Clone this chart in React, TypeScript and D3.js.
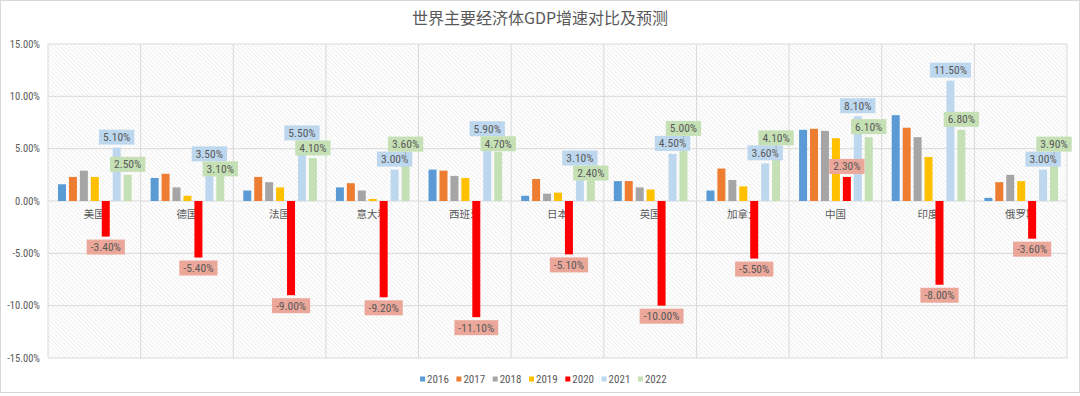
// 世界主要经济体GDP增速对比及预测 — 分组柱状图 + 数据标签
import React, { useEffect, useRef } from 'react';
import * as d3 from 'd3';

const countries = ['美国', '德国', '法国', '意大利', '西班牙', '日本', '英国', '加拿大', '中国', '印度', '俄罗斯'];
const years = ['2016', '2017', '2018', '2019', '2020', '2021', '2022'];

const g2016 = [1.6, 2.2, 1.0, 1.3, 3.0, 0.5, 1.9, 1.0, 6.8, 8.2, 0.3];
const g2017 = [2.3, 2.6, 2.3, 1.7, 2.9, 2.1, 1.9, 3.1, 6.9, 7.0, 1.8];
const g2018 = [2.9, 1.3, 1.8, 1.0, 2.4, 0.7, 1.3, 2.0, 6.7, 6.1, 2.5];
const g2019 = [2.3, 0.5, 1.3, 0.2, 2.2, 0.8, 1.1, 1.4, 6.0, 4.2, 1.9];
const g2020 = [-3.4, -5.4, -9.0, -9.2, -11.1, -5.1, -10.0, -5.5, 2.3, -8.0, -3.6];
const g2021 = [5.1, 3.5, 5.5, 3.0, 5.9, 3.1, 4.5, 3.6, 8.1, 11.5, 3.0];
const g2022 = [2.5, 3.1, 4.1, 3.6, 4.7, 2.4, 5.0, 4.1, 6.1, 6.8, 3.9];

const yTicks = [-15, -10, -5, 0, 5, 10, 15];

const series = [g2016, g2017, g2018, g2019, g2020, g2021, g2022];
const colors = ['#5b9bd5', '#ed7d31', '#a5a5a5', '#ffc000', '#ff0000', '#bdd7ee', '#c5e0b4'];
const labelFill: Record<string, string> = { '2020': '#eba79a', '2021': '#bdd7ee', '2022': '#c5e0b4' };

const NUM_FONT = "'Liberation Sans Narrow', 'Roboto Condensed', 'Liberation Sans', sans-serif";
const CJK_FONT = "'Noto Sans CJK SC', sans-serif";
const TEXT = '#595959';

const App: React.FC = () => {
  const svgRef = useRef<SVGSVGElement>(null);

  useEffect(() => {
    if (!svgRef.current) return;
    const svg = d3.select(svgRef.current);
    svg.selectAll('*').remove();

    const width = 1080;
    const height = 396;
    const margin = { top: 44, right: 13, bottom: 38, left: 48 };
    const innerW = width - margin.left - margin.right;
    const innerH = height - margin.top - margin.bottom;

    // рамка всей диаграммы
    svg.append('rect')
      .attr('x', 0.5).attr('y', 0.5)
      .attr('width', width - 1).attr('height', height - 4)
      .attr('fill', '#fff').attr('stroke', '#d9d9d9');

    // штриховка фона
    const defs = svg.append('defs');
    const pat = defs.append('pattern')
      .attr('id', 'hatch')
      .attr('width', 3).attr('height', 3)
      .attr('patternUnits', 'userSpaceOnUse')
      .attr('patternTransform', 'rotate(-45)');
    pat.append('line')
      .attr('x1', 0).attr('y1', 0).attr('x2', 0).attr('y2', 3)
      .attr('stroke', '#e4e4e4').attr('stroke-width', 1.2);

    // заголовок
    svg.append('text')
      .attr('x', width / 2).attr('y', 24)
      .attr('text-anchor', 'middle')
      .attr('font-family', CJK_FONT).attr('font-size', 16)
      .attr('fill', TEXT)
      .text('世界主要经济体GDP增速对比及预测');

    const g = svg.append('g').attr('transform', `translate(${margin.left},${margin.top})`);

    const x0 = d3.scaleBand<string>().domain(countries).range([0, innerW]);
    const bw = x0.bandwidth();
    const x1 = d3.scaleBand<string>().domain(years).range([10, bw - 9]).paddingInner(0.27);
    const y = d3.scaleLinear().domain([-15, 15]).range([innerH, 0]);

    g.append('rect')
      .attr('width', innerW).attr('height', innerH)
      .attr('fill', 'url(#hatch)');

    // сетка
    g.append('g').selectAll('line')
      .data(yTicks).enter().append('line')
      .attr('x1', 0).attr('x2', innerW)
      .attr('y1', (d) => y(d)).attr('y2', (d) => y(d))
      .attr('stroke', '#d9d9d9');
    const bounds = countries.map((c) => x0(c)!).concat([innerW]);
    g.append('g').selectAll('line')
      .data(bounds).enter().append('line')
      .attr('x1', (d) => d).attr('x2', (d) => d)
      .attr('y1', 0).attr('y2', innerH)
      .attr('stroke', '#d9d9d9');

    // ось Y
    g.append('g').selectAll('text')
      .data(yTicks).enter().append('text')
      .attr('x', -8).attr('y', (d) => y(d))
      .attr('dy', '0.35em')
      .attr('text-anchor', 'end')
      .attr('font-family', NUM_FONT).attr('font-size', 10.5)
      .attr('fill', TEXT)
      .text((d) => `${d.toFixed(2)}%`);

    // подписи стран (под столбиками)
    g.append('g').selectAll('text')
      .data(countries).enter().append('text')
      .attr('x', (d) => x0(d)! + bw / 2)
      .attr('y', y(0) + 13)
      .attr('dy', '0.35em')
      .attr('text-anchor', 'middle')
      .attr('font-family', CJK_FONT).attr('font-size', 10.5)
      .attr('fill', TEXT)
      .text((d) => d);

    // столбики
    years.forEach((yr, si) => {
      g.append('g').selectAll('rect')
        .data(series[si]).enter().append('rect')
        .attr('x', (_, i) => x0(countries[i])! + x1(yr)!)
        .attr('width', x1.bandwidth())
        .attr('y', (d) => y(Math.max(0, d)))
        .attr('height', (d) => Math.abs(y(d) - y(0)))
        .attr('fill', colors[si]);
    });

    // подписи данных
    const boxH = 15;
    const gap = 3;
    const lg = g.append('g');
    const drawLabel = (cx: number, top: number, v: number, yr: string) => {
      const grp = lg.append('g');
      const rect = grp.append('rect').attr('fill', labelFill[yr]);
      const txt = grp.append('text')
        .attr('x', cx).attr('y', top + boxH / 2)
        .attr('dy', '0.35em')
        .attr('text-anchor', 'middle')
        .attr('font-family', NUM_FONT).attr('font-size', 11.5)
        .attr('fill', TEXT)
        .text(`${v.toFixed(2)}%`);
      const tw = (txt.node() as SVGTextElement).getComputedTextLength();
      rect.attr('x', cx - tw / 2 - 4).attr('y', top).attr('width', tw + 8).attr('height', boxH);
    };

    countries.forEach((c, i) => {
      const cx = (yr: string) => x0(c)! + x1(yr)! + x1.bandwidth() / 2;

      const v20 = g2020[i];
      const top20 = v20 < 0 ? y(v20) + gap : y(v20) - gap - boxH;
      drawLabel(cx('2020'), top20, v20, '2020');

      const v21 = g2021[i];
      const top21 = y(v21) - gap - boxH;
      drawLabel(cx('2021'), top21, v21, '2021');

      const v22 = g2022[i];
      let top22 = y(v22) - gap - boxH;
      const overlap = top22 < top21 + boxH && top22 + boxH > top21;
      if (overlap) {
        if (v22 >= v21) {
          top22 = top21 - boxH;
          lg.append('line')
            .attr('x1', cx('2022')).attr('x2', cx('2022'))
            .attr('y1', top22 + boxH).attr('y2', y(v22))
            .attr('stroke', '#a6a6a6').attr('stroke-width', 0.8);
        } else {
          top22 = top21 + boxH;
        }
      }
      drawLabel(cx('2022'), top22, v22, '2022');
    });

    // легенда
    const step = 36.3;
    const legendX = width / 2 + 2 - (6 * step + 26) / 2;
    const legY = 379;
    const leg = svg.append('g');
    years.forEach((yr, si) => {
      const lx = legendX + si * step;
      leg.append('rect')
        .attr('x', lx).attr('y', legY - 2.5)
        .attr('width', 5).attr('height', 5)
        .attr('fill', colors[si]);
      leg.append('text')
        .attr('x', lx + 7).attr('y', legY)
        .attr('dy', '0.35em')
        .attr('font-family', NUM_FONT).attr('font-size', 11)
        .attr('fill', TEXT)
        .text(yr);
    });
  }, []);

  return <svg ref={svgRef} width={1080} height={396} style={{ position: 'absolute', left: 0, top: 0 }} />;
};

export default App;
